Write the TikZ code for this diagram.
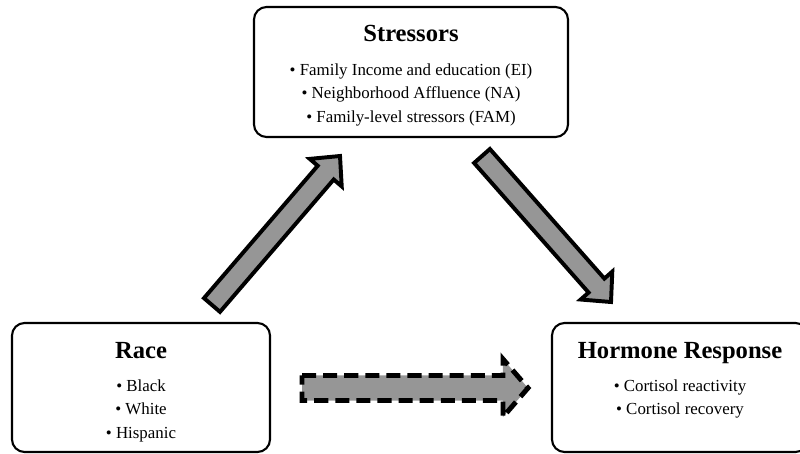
\documentclass[tikz,border=0pt]{standalone}
\usepackage{fontspec}
\setmainfont{Liberation Serif}
\usetikzlibrary{calc}
\definecolor{arrowgray}{RGB}{150,150,150}
% fat block arrow: [style] from, to, shaft half width, head half width, head length
\newcommand{\blockarrow}[6][]{%
  \coordinate (#2-#3-b) at ($(#3)!#6!(#2)$);
  \draw[#1] ($(#2)!#4!90:(#3)$) -- ($(#2-#3-b)!#4!90:(#3)$) -- ($(#2-#3-b)!#5!90:(#3)$)
    -- (#3) -- ($(#2-#3-b)!#5!-90:(#3)$) -- ($(#2-#3-b)!#4!-90:(#3)$)
    -- ($(#2)!#4!-90:(#3)$) -- cycle;}
\begin{document}
\begin{tikzpicture}[x=0.025cm,y=-0.025cm,
	box/.style={draw,line width=1.5pt,rounded corners=9pt,fill=white,inner sep=0pt},
	boxtitle/.style={font=\fontsize{17.5}{20}\selectfont\bfseries,anchor=base,inner sep=0pt},
	boxlist/.style={font=\fontsize{12}{16.7}\selectfont,align=center,anchor=base,inner sep=0pt},
	fatarrow/.style={draw=black,fill=arrowgray,line width=2.8pt,line join=miter},
	fatdashed/.style={fatarrow,line width=3.5pt,dash pattern=on 10pt off 5pt}]
	\useasboundingbox (0,0) rectangle (800,453);
	% boxes
	\node[box,minimum width=7.85cm,minimum height=3.25cm] (stress) at (411,72) {};
	\node[box,minimum width=6.45cm,minimum height=3.225cm] (race) at (141,387.5) {};
	\node[box,minimum width=6.4cm,minimum height=3.225cm] (horm) at (680,387.5) {};
	% texts (base = last line)
	\node[boxtitle] (stresst) at (411,42) {Stressors};
	\node[boxlist] (stressl) at (411,122) {• Family Income and education (EI)\\• Neighborhood Affluence (NA)\\• Family-level stressors (FAM)};
	\node[boxtitle] (racet) at (141,358) {Race};
	\node[boxlist] (racel) at (141,438) {• Black\\• White\\• Hispanic};
	\node[boxtitle] (hormt) at (680,358) {Hormone Response};
	\node[boxlist] (horml) at (680,414.5) {• Cortisol reactivity\\• Cortisol recovery};
	% arrows
	\coordinate (rs1) at (212,305);
	\coordinate (rs2) at (340,156);
	\coordinate (sh1) at (482,156);
	\coordinate (sh2) at (611,302);
	\coordinate (rh1) at (302,388);
	\coordinate (rh2) at (528,388);
	\blockarrow[fatarrow]{rs1}{rs2}{7.5pt}{15pt}{15.6pt}
	\blockarrow[fatarrow]{sh1}{sh2}{7.5pt}{15pt}{15.6pt}
	\blockarrow[fatdashed]{rh1}{rh2}{8.9pt}{20.6pt}{17.8pt}
\end{tikzpicture}
\end{document}
